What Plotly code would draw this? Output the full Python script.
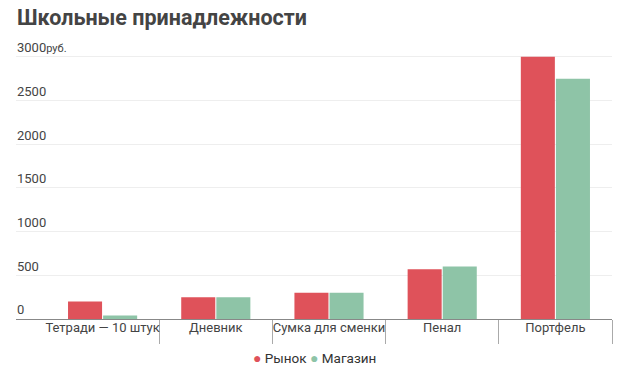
import plotly.graph_objects as go

categories = ["Тетради — 10 штук", "Дневник", "Сумка для сменки", "Пенал", "Портфель"]
rynok = [200, 250, 300, 570, 3000]
magazin = [40, 250, 300, 600, 2750]
series_names = ["Рынок", "Магазин"]
y_ticks = [0, 500, 1000, 1500, 2000, 2500, 3000]
y_ticktext = ["0", "500", "1000", "1500", "2000", "2500", "3000<span style='font-size:11px'>руб.</span>"]

RED = "#df525a"
GREEN = "#8ec4a7"

fig = go.Figure()
fig.add_trace(go.Bar(name=series_names[0], x=categories, y=rynok, showlegend=False,
                     marker=dict(color=RED, line=dict(width=0))))
fig.add_trace(go.Bar(name=series_names[1], x=categories, y=magazin, showlegend=False,
                     marker=dict(color=GREEN, line=dict(width=0))))

legend_text = " ".join(
    f"<span style='color:{c};font-size:14px'>●</span> {n}" for n, c in zip(series_names, [RED, GREEN])
)
fig.add_annotation(text=legend_text, xref="paper", yref="paper", x=0.5, y=-0.137,
                   xanchor="center", yanchor="middle", showarrow=False,
                   font=dict(family="Roboto", size=13.5, color="#333"))

fig.update_layout(
    width=620, height=374,
    margin=dict(l=16, r=8, t=35, b=55, autoexpand=False),
    paper_bgcolor="white", plot_bgcolor="white",
    barmode="group", bargap=0.38, bargroupgap=0.03,
    font=dict(family="Roboto", size=13, color="#444"),
    title=dict(text="<b>Школьные принадлежности</b>", x=17 / 620, xref="container", xanchor="left",
               y=0.953, yref="container", yanchor="middle",
               font=dict(family="Roboto", size=21.5, color="#444")),
    showlegend=False,
)
fig.update_xaxes(
    type="category", range=[-0.765, 4.5], tickson="boundaries", tickangle=0,
    ticks="outside", ticklen=24, tickcolor="#aaa", tickwidth=1, ticklabelstandoff=-4,
    showline=True, linecolor="#888", linewidth=1, showgrid=False,
    tickfont=dict(size=13, color="#444"), automargin=False,
)
fig.update_yaxes(
    range=[0, 3250], tickvals=y_ticks, ticktext=y_ticktext,
    ticklabelposition="inside top", ticks="", showline=False, ticklabelstandoff=-2,
    showgrid=True, gridcolor="#eeeeee", gridwidth=1, zeroline=False,
    tickfont=dict(size=13, color="#444"), automargin=False,
)
fig.write_html("out.html", config={"displayModeBar": False},
               post_script="document.body.style.margin='0';")
